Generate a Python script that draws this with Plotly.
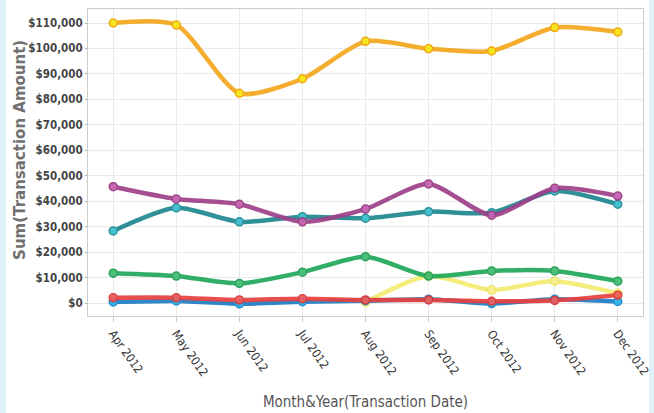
import plotly.graph_objects as go

months = ["Apr 2012", "May 2012", "Jun 2012", "Jul 2012", "Aug 2012",
          "Sep 2012", "Oct 2012", "Nov 2012", "Dec 2012"]

orange = [110000, 109200, 82400, 88100, 102800, 99900, 99000, 108200, 106500]
purple = [45700, 40900, 38800, 31900, 36900, 46800, 34500, 45100, 42000]
teal = [28300, 37400, 31900, 33900, 33300, 35900, 35500, 44000, 38800]
green = [11700, 10600, 7700, 12100, 18200, 10600, 12600, 12600, 8600]
yellow = [None, None, None, None, 300, 10600, 5100, 8600, 3800]
red = [2100, 2100, 1200, 1700, 1200, 1200, 700, 1000, 3100]
blue = [400, 800, -300, 500, 900, 1500, -200, 1500, 600]

y_ticks = list(range(0, 110001, 10000))
y_tick_text = ["${:,}".format(v) for v in y_ticks]

series = [
    ("Yellow", yellow, "#F3EC70", "#F7F08A", "#EDE25A"),
    ("Blue", blue, "#1F7DC4", "#22B0EA", "#1A86C8"),
    ("Red", red, "#E8403F", "#EE5A5A", "#D93535"),
    ("Green", green, "#1FA85A", "#3DBB6E", "#1E9A52"),
    ("Teal", teal, "#1E8790", "#35BCCB", "#1F8A95"),
    ("Purple", purple, "#9E3F88", "#C45BAE", "#93397E"),
    ("Orange", orange, "#F4A71B", "#F5E40E", "#F0A000"),
]

fig = go.Figure()
for name, vals, lc, mfill, mline in series:
    fig.add_trace(go.Scatter(
        x=months, y=vals, name=name, mode="lines+markers",
        line=dict(color=lc, width=4.5, shape="spline", smoothing=0.7),
        marker=dict(size=8, color=mfill, line=dict(color=mline, width=1.5)),
        opacity=0.92,
    ))

cond = "DejaVu Sans Condensed, sans-serif"

fig.update_layout(
    width=654, height=413,
    margin=dict(l=88, r=11, t=9, b=97),
    paper_bgcolor="#DFF0F8",
    plot_bgcolor="rgba(0,0,0,0)",
    showlegend=False,
    shapes=[dict(type="rect", xref="paper", yref="paper",
                 x0=-0.1477, x1=1.0108, y0=-0.33, y1=1.05,
                 fillcolor="white", line=dict(width=0), layer="below")],
    annotations=[dict(text="Sum(Transaction Amount)", textangle=-90,
                      xref="paper", yref="paper", x=-0.1225, y=0.541,
                      xanchor="center", yanchor="middle", showarrow=False,
                      font=dict(family="DejaVu Sans", size=15, color="#707070",
                                weight="bold"))],
    xaxis=dict(
        type="category", range=[-0.4, 8.4], automargin=False,
        showgrid=True, gridcolor="#EAEAEA", gridwidth=1,
        showline=True, linecolor="#CCCCCC", linewidth=1, mirror=True,
        ticks="outside", ticklen=5, tickcolor="#CCCCCC",
        tickangle=55,
        tickfont=dict(family=cond, size=12, color="#333333"),
        title=dict(text="Month&Year(Transaction Date)", standoff=18,
                   font=dict(family=cond, size=15, color="#555555")),
        zeroline=False,
    ),
    yaxis=dict(
        range=[-5100, 115500], automargin=False,
        tickvals=y_ticks, ticktext=y_tick_text,
        showgrid=True, gridcolor="#EAEAEA", gridwidth=1,
        showline=True, linecolor="#CCCCCC", linewidth=1, mirror=True,
        ticks="outside", ticklen=2, tickcolor="#AAAAAA",
        tickfont=dict(family=cond, size=11.5, color="#444444", weight="bold"),
        zeroline=False,
    ),
)

fig.write_html("out.html", config={"displayModeBar": False},
               post_script="document.body.style.margin='0';")
